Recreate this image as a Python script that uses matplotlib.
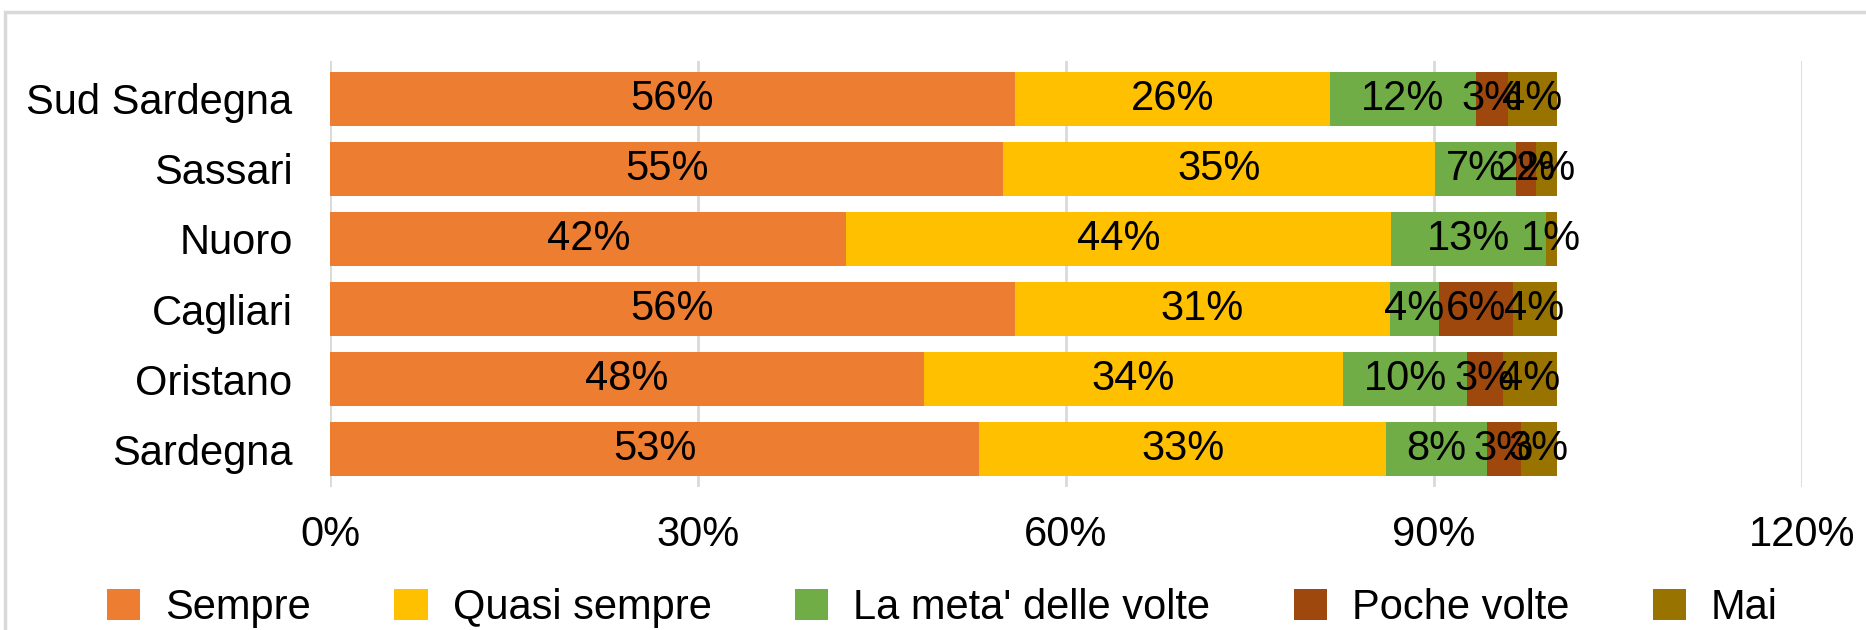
import numpy as np
import matplotlib
matplotlib.use("Agg")
import matplotlib.pyplot as plt
from matplotlib.patches import Rectangle
from matplotlib.ticker import FuncFormatter

plt.rcParams['font.family'] = ['Liberation Sans', 'DejaVu Sans']

# data (percent), categories listed top to bottom
categories = ["Sud Sardegna", "Sassari", "Nuoro", "Cagliari", "Oristano", "Sardegna"]
series_names = ["Sempre", "Quasi sempre", "La meta' delle volte", "Poche volte", "Mai"]
sempre = [55.8, 54.9, 42.1, 55.8, 48.4, 52.9]
quasi_sempre = [25.7, 35.2, 44.4, 30.6, 34.2, 33.2]
la_meta = [11.9, 6.6, 12.6, 4.0, 10.1, 8.2]
poche_volte = [2.6, 1.6, 0.0, 6.0, 2.9, 2.8]
mai = [4.0, 1.7, 0.9, 3.6, 4.4, 2.9]
colors = ["#ED7D31", "#FFC000", "#70AD47", "#9E480E", "#997300"]

series = [sempre, quasi_sempre, la_meta, poche_volte, mai]
fs = 30

fig = plt.figure(figsize=(18.66, 6.3), dpi=100)
ax = fig.add_axes([0.1769, 0.227, 0.9657 - 0.1769, 0.903 - 0.227])

y = np.arange(len(categories))
left = np.zeros(len(categories))
for name, vals, c in zip(series_names, series, colors):
    vals = np.array(vals)
    ax.barh(y, vals, left=left, height=0.77, color=c, label=name, zorder=2)
    for yi, l, v in zip(y, left, vals):
        if v > 0:
            ax.text(l + v / 2, yi, f"{v:.0f}%", ha='center', va='center',
                    fontsize=fs, color='black', zorder=3)
    left += vals

ax.set_xlim(0, 120)
ax.set_ylim(-0.535, len(categories) - 0.465)
ax.invert_yaxis()
ax.set_yticks(y)
ax.set_yticklabels(categories, fontsize=fs)
ax.set_xticks([0, 30, 60, 90, 120])
ax.xaxis.set_major_formatter(FuncFormatter(lambda v, p: f"{v:.0f}%"))
ax.tick_params(axis='x', labelsize=fs, length=0, pad=20)
ax.tick_params(axis='y', length=0, pad=27)
ax.grid(axis='x', color='#D9D9D9', linewidth=2, zorder=0)
ax.set_axisbelow(True)
for s in ax.spines.values():
    s.set_visible(False)

fig.legend(loc='center', bbox_to_anchor=(0.505, 0.035), ncol=5, frameon=False,
           fontsize=fs, handlelength=0.8, handleheight=0.8, handletextpad=0.6,
           columnspacing=2.0)

fig.patches.append(Rectangle((5 / 1866, -0.05), 1.1, 1 - 12 / 630 + 0.05,
                             transform=fig.transFigure, fill=False,
                             edgecolor='#D9D9D9', linewidth=2.5))

fig.savefig("out.png", dpi=100)
